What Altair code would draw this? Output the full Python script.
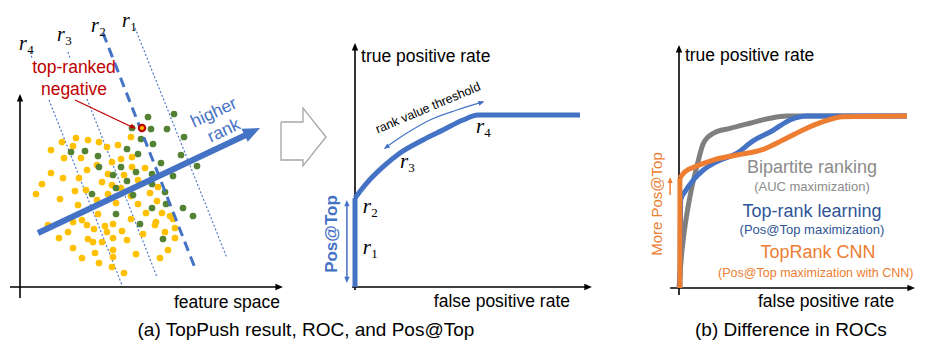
import math
import altair as alt
import pandas as pd

# ---------------- data ----------------
# (a) left: samples in feature space (arbitrary units, origin = crossing of the axes)
neg_x = [5.6, 6.8, 4.2, 7.9, 3.1, 8.7, 5.3, 4.4, 6.1, 7.7, 6.7, 3.1, 8.8, 4.3, 5.9, 8.2, 2.2, 5.5, 6.6, 1.6,
         8.8, 4.0, 7.7, 5.8, 7.8, 5.3, 6.2, 6.7, 8.5, 2.8, 7.4, 4.8, 8.7, 3.9, 6.8, 7.3, 8.2, 5.3, 7.5, 6.2,
         7.9, 11.1, 9.8, 11.2, 10.1, 9.2, 12.5, 11.2, 10.4, 11.8, 13.8, 9.2, 13.0, 10.1, 11.1, 13.7, 11.8, 9.6,
         12.6, 14.2, 15.0, 15.3, 11.1, 9.3, 13.6, 13.5, 15.5, 10.2, 12.3, 14.5, 9.3, 15.5, 10.7, 9.3, 14.8,
         11.6, 9.3, 14.0, 9.2, 10.4]
neg_y = [14.9, 14.7, 14.5, 14.5, 13.7, 14.0, 14.1, 12.9, 12.9, 12.2, 11.7, 11.4, 11.3, 10.9, 10.9, 10.5, 10.3,
         9.6, 9.7, 9.3, 9.3, 8.8, 8.7, 8.2, 7.3, 6.5, 6.7, 6.2, 6.1, 6.2, 5.8, 5.5, 5.5, 4.9, 4.8, 4.5, 4.5,
         3.9, 3.4, 2.9, 2.4, 15.0, 14.2, 13.0, 12.8, 12.5, 11.9, 12.0, 11.2, 10.7, 10.0, 10.2, 9.4, 9.9, 9.1,
         8.6, 8.3, 8.4, 7.4, 7.4, 7.1, 6.8, 6.8, 6.3, 6.5, 6.2, 5.9, 5.6, 5.3, 5.5, 4.9, 4.9, 4.7, 3.7, 3.7,
         3.3, 3.0, 2.9, 2.0, 1.4]
pos_x = [5.1, 6.5, 7.8, 7.9, 7.2, 12.8, 11.2, 13.1, 14.7, 15.4, 12.1, 16.4, 13.3, 10.7, 11.8, 16.1, 14.1,
         17.7, 10.1, 11.6, 9.3, 13.2, 15.3, 10.7, 13.2, 9.6, 14.5, 11.3, 14.6, 16.3, 13.2, 9.6, 17.3, 12.0,
         14.3]
pos_y = [13.5, 13.6, 13.1, 12.0, 9.3, 17.0, 15.9, 15.8, 15.8, 17.3, 14.8, 15.0, 14.3, 13.8, 13.3, 13.2, 12.4,
         12.1, 12.0, 11.5, 11.2, 11.3, 11.1, 10.6, 10.3, 9.9, 9.5, 9.2, 8.3, 7.9, 7.9, 7.3, 7.1, 6.3, 4.8]
top_neg_x = [12.2]
top_neg_y = [15.9]

# rank-value threshold lines (r3, r4 interrupted by the label)
thr_name = ["r1", "r1", "r2", "r2", "r3a", "r3a", "r3b", "r3b", "r4a", "r4a", "r4b", "r4b"]
thr_x = [11.5, 20.7, 8.3, 17.5, 4.8, 5.0, 6.7, 13.7, 1.0, 1.2, 2.9, 10.2]
thr_y = [25.9, 2.9, 25.4, 1.9, 23.5, 22.9, 18.8, 1.0, 23.5, 22.9, 18.7, 0.2]
thr_lab_x = [10.6, 7.5, 4.1, 0.3]
thr_lab_y = [26.6, 26.1, 25.2, 24.3]
thr_sub = ["1", "2", "3", "4"]

# "higher rank" direction arrow
rank_x = [1.8, 22.8]
rank_y = [5.4, 15.3]
rank_tip = (24.0, 15.9)

# (a) ROC of TopPush
roc_fpr = [0, 0, 0.053, 0.124, 0.2, 0.302, 0.391, 0.48, 0.547, 1.0]
roc_tpr = [0, 0.517, 0.605, 0.698, 0.779, 0.855, 0.913, 0.971, 1.0, 1.0]
roc_lab_fpr = [0.053, 0.053, 0.218, 0.556]
roc_lab_tpr = [0.227, 0.465, 0.727, 0.930]
thr_arrow_fpr = [0.133, 0.231, 0.333, 0.453, 0.569]
thr_arrow_tpr = [0.808, 0.895, 0.971, 1.029, 1.076]

# (b) ROCs
bip_fpr = [0, 0.012, 0.026, 0.048, 0.078, 0.107, 0.150, 0.224, 0.311, 0.399, 0.474, 1.0]
bip_tpr = [0, 0.203, 0.356, 0.531, 0.705, 0.841, 0.899, 0.928, 0.958, 0.987, 1.0, 1.0]
top_fpr = [0.004, 0.007, 0.026, 0.063, 0.107, 0.165, 0.253, 0.325, 0.408, 0.487, 0.561, 1.0]
top_tpr = [0, 0.512, 0.56, 0.628, 0.686, 0.734, 0.783, 0.855, 0.913, 0.977, 1.0, 1.0]
cnn_fpr = [0.004, 0.004, 0.026, 0.078, 0.150, 0.253, 0.370, 0.456, 0.544, 0.632, 0.719, 1.0]
cnn_tpr = [0, 0.64, 0.676, 0.709, 0.744, 0.773, 0.806, 0.860, 0.919, 0.967, 0.996, 1.0]

# ---------------- layout / style ----------------
BLUE, RED, ORANGE = "#4472C4", "#C00000", "#ED7D31"
GRAY, DBLUE, TGRAY = "#7F7F7F", "#2F5597", "#8C8C8C"
YELLOW, GREEN, BLACK = "#FFC000", "#548235", "#000000"
SANS, SERIF = "Liberation Sans", "Liberation Serif"

X0, X1, Y0, Y1 = 8, 917, 8, 343          # drawing extent on the page
PANELS = {"feat": (20, 287, 10, 10), "roc": (355, 287, 225, 172), "diff": (679, 288, 228, 172)}


def enc(p):
    ox, oy, ux, uy = PANELS[p]
    xs = alt.Scale(domain=[(X0 - ox) / ux, (X1 - ox) / ux], nice=False, zero=False)
    ys = alt.Scale(domain=[(oy - Y1) / uy, (oy - Y0) / uy], nice=False, zero=False)
    return dict(x=alt.X("x:Q", scale=xs, axis=None), y=alt.Y("y:Q", scale=ys, axis=None))


def line(p, xs, ys, color, width, dash=None, group=None, join="round", interp="linear"):
    df = pd.DataFrame({"x": xs, "y": ys, "o": list(range(len(xs))),
                       "g": group if group else ["a"] * len(xs)})
    kw = dict(color=color, strokeWidth=width, strokeCap="butt", strokeJoin=join, interpolate=interp)
    if dash:
        kw["strokeDash"] = dash
    return alt.Chart(df).mark_line(**kw).encode(**enc(p), order="o:Q", detail="g:N")


def curve(p, xs, ys, color, width):
    """ROC curve: a vertical start (if any) drawn straight, the rest smoothed."""
    k = 1 if xs[1] == xs[0] else 0
    out = []
    if k:
        out.append(line(p, xs[:2], ys[:2], color, width))
    out.append(line(p, xs[k:], ys[k:], color, width, interp="monotone"))
    return out


HEAD = "M0,0L-0.85,2L0.85,2Z"


def heads(p, rows):
    ox, oy, ux, uy = PANELS[p]
    recs = [dict(x=x, y=y, a=math.degrees(math.atan2(dx * ux, dy * uy)) % 360, s=4 * k * k, c=c)
            for (x, y, dx, dy, k, c) in rows]
    return alt.Chart(pd.DataFrame(recs)).mark_point(shape=HEAD, filled=True, opacity=1, strokeWidth=0).encode(
        **enc(p),
        angle=alt.Angle("a:Q", scale=None, legend=None),
        size=alt.Size("s:Q", scale=None, legend=None),
        color=alt.Color("c:N", scale=None, legend=None))


def texts(p, rows, **mark):
    df = pd.DataFrame(rows, columns=["t", "x", "y", "s", "c", "a"])
    mark.setdefault("baseline", "middle")
    return alt.Chart(df).mark_text(**mark).encode(
        **enc(p), text="t:N",
        size=alt.Size("s:Q", scale=None, legend=None),
        color=alt.Color("c:N", scale=None, legend=None),
        angle=alt.Angle("a:Q", scale=None, legend=None))


layers = []

# ---- panel (a) left ----
layers.append(line("feat", [0, 0, -1.0, 25.9], [-1.1, 18.9, 0, 0], BLACK, 1.6, group=["v", "v", "h", "h"]))
layers.append(heads("feat", [(0, 19.3, 0, 1, 3.8, BLACK), (26.3, 0, 1, 0, 3.8, BLACK)]))
thin = [i for i, n in enumerate(thr_name) if n != "r2"]
layers.append(line("feat", [thr_x[i] for i in thin], [thr_y[i] for i in thin], BLUE, 1.1,
                   dash=[2, 2], group=[thr_name[i] for i in thin]))
layers.append(alt.Chart(pd.DataFrame({"x": neg_x, "y": neg_y})).mark_circle(
    size=45, color=YELLOW, opacity=1).encode(**enc("feat")))
layers.append(alt.Chart(pd.DataFrame({"x": pos_x, "y": pos_y})).mark_circle(
    size=45, color=GREEN, opacity=1).encode(**enc("feat")))
r2 = [i for i, n in enumerate(thr_name) if n == "r2"]
layers.append(line("feat", [thr_x[i] for i in r2], [thr_y[i] for i in r2], BLUE, 3, dash=[10, 6]))
layers.append(line("feat", rank_x, rank_y, BLUE, 6))
layers.append(heads("feat", [(rank_tip[0], rank_tip[1], 22.2, 10.5, 8.5, BLUE)]))
layers.append(line("feat", [5.5, 11.2], [18.7, 16.0], RED, 1.3))
layers.append(heads("feat", [(11.6, 15.85, 6.1, -2.85, 3.0, RED)]))
layers.append(alt.Chart(pd.DataFrame({"x": top_neg_x, "y": top_neg_y})).mark_circle(
    size=40, color=YELLOW, opacity=1, stroke=RED, strokeWidth=2.2).encode(**enc("feat")))
# block arrow between the panels
layers.append(line("feat", [26.1, 28.3, 28.3, 30.6, 28.3, 28.3, 26.1, 26.1],
                   [16.5, 16.5, 17.9, 15.0, 12.1, 12.7, 12.7, 16.5], "#A6A6A6", 1.3, join="miter"))
layers.append(texts("feat", [("top-ranked", 5.4, 21.9, 17.5, RED, 0), ("negative", 5.4, 19.7, 17.5, RED, 0),
                             ("higher", 19.4, 17.4, 17.5, BLUE, 335), ("rank", 20.4, 15.6, 17.5, BLUE, 335)],
                    font=SANS, align="center"))
layers.append(texts("feat", [("feature space", 26.0, -1.6, 17.5, BLACK, 0)], font=SANS, align="right"))
layers.append(texts("feat", [("r", x, y, 20, BLACK, 0) for x, y in zip(thr_lab_x, thr_lab_y)],
                    font=SERIF, fontStyle="italic", align="center"))
layers.append(texts("feat", [(s, x, y, 13, BLACK, 0) for s, x, y in zip(thr_sub, thr_lab_x, thr_lab_y)],
                    font=SERIF, align="center", dx=7.5, dy=6))

# ---- panel (a) ROC ----
layers.append(line("roc", [0, 0, -0.013, 1.035], [-0.017, 1.396, 0, 0], BLACK, 1.6, group=["v", "v", "h", "h"]))
layers.append(heads("roc", [(0, 1.419, 0, 1, 3.8, BLACK), (1.053, 0, 1, 0, 3.8, BLACK)]))
layers.extend(curve("roc", roc_fpr, roc_tpr, BLUE, 5))
layers.append(line("roc", [-0.036, -0.036], [0.045, 0.484], BLUE, 1.5))
layers.append(heads("roc", [(-0.036, 0.506, 0, 1, 3.2, BLUE), (-0.036, 0.023, 0, -1, 3.2, BLUE)]))
layers.append(line("roc", thr_arrow_fpr, thr_arrow_tpr, BLUE, 1.2, interp="monotone"))
layers.append(heads("roc", [(0.575, 1.078, 0.116, 0.047, 3.0, BLUE), (0.128, 0.803, -0.098, -0.087, 3.0, BLUE)]))
layers.append(texts("roc", [("true positive rate", 0.027, 1.337, 17.5, BLACK, 0)], font=SANS, align="left"))
layers.append(texts("roc", [("false positive rate", 0.653, -0.087, 17.5, BLACK, 0),
                            ("rank value threshold", 0.324, 1.041, 12.5, BLACK, 337),
                            ("(a) TopPush result, ROC, and Pos@Top", -0.218, -0.25, 19, BLACK, 0)],
                    font=SANS, align="center"))
layers.append(texts("roc", [("Pos@Top", -0.102, 0.308, 17, BLUE, 270)], font=SANS, fontWeight="bold",
                    align="center"))
layers.append(texts("roc", [("r", x, y, 21, BLACK, 0) for x, y in zip(roc_lab_fpr, roc_lab_tpr)],
                    font=SERIF, fontStyle="italic", align="center"))
layers.append(texts("roc", [(s, x, y, 13, BLACK, 0) for s, x, y in zip(thr_sub, roc_lab_fpr, roc_lab_tpr)],
                    font=SERIF, align="center", dx=7.5, dy=6))

# ---- panel (b) ----
layers.append(line("diff", [0, 0, -0.039, 1.017], [-0.04, 1.39, 0, 0], BLACK, 1.6, group=["v", "v", "h", "h"]))
layers.append(heads("diff", [(0, 1.413, 0, 1, 3.8, BLACK), (1.035, 0, 1, 0, 3.8, BLACK)]))
layers.extend(curve("diff", bip_fpr, bip_tpr, GRAY, 5))
layers.extend(curve("diff", top_fpr, top_tpr, BLUE, 5))
layers.extend(curve("diff", cnn_fpr, cnn_tpr, ORANGE, 5))
layers.append(line("diff", [-0.039, -0.039], [0.541, 0.625], ORANGE, 1.5))
layers.append(heads("diff", [(-0.039, 0.645, 0, 1, 3.0, ORANGE)]))
layers.append(texts("diff", [("true positive rate", 0.026, 1.349, 17.5, BLACK, 0)], font=SANS, align="left"))
layers.append(texts("diff", [("false positive rate", 0.645, -0.081, 17.5, BLACK, 0),
                             ("Bipartite ranking", 0.583, 0.698, 18, TGRAY, 0),
                             ("(AUC maximization)", 0.583, 0.587, 13, TGRAY, 0),
                             ("Top-rank learning", 0.583, 0.442, 18, DBLUE, 0),
                             ("(Pos@Top maximization)", 0.583, 0.337, 13, DBLUE, 0),
                             ("TopRank CNN", 0.610, 0.203, 18, ORANGE, 0),
                             ("(Pos@Top maximization with CNN)", 0.600, 0.087, 12.5, ORANGE, 0),
                             ("More Pos@Top", -0.096, 0.488, 15, ORANGE, 270),
                             ("(b) Difference in ROCs", 0.491, -0.244, 19, BLACK, 0)],
                    font=SANS, align="center"))

chart = alt.layer(*layers).resolve_scale(x="independent", y="independent").properties(
    width=X1 - X0, height=Y1 - Y0, padding=0,
    autosize=alt.AutoSizeParams(type="none"),
).configure_view(strokeWidth=0)

chart.save("out.html", embed_options={"renderer": "svg", "actions": False})
